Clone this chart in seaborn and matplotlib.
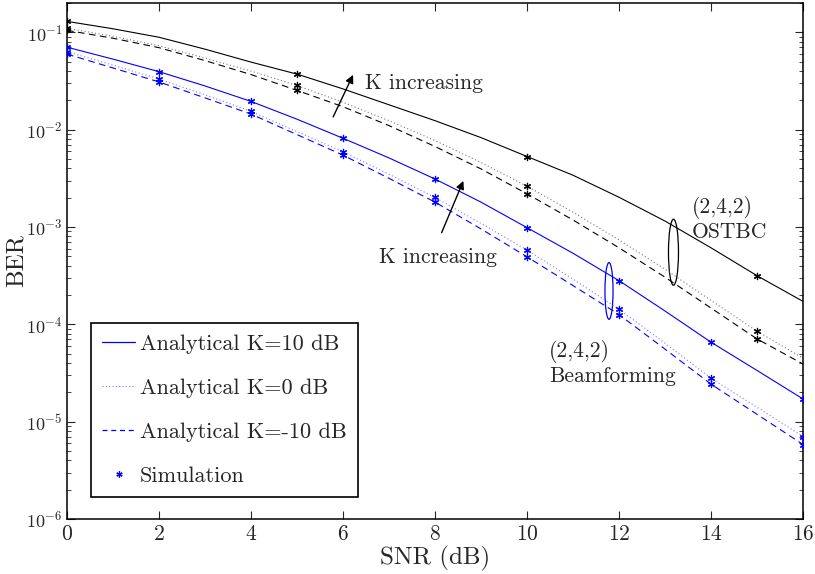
import numpy as np
import pandas as pd
import seaborn as sns
import matplotlib.pyplot as plt
from matplotlib.lines import Line2D
from matplotlib.patches import Ellipse

# SNR grid of the analytical curves (dB)
snr = list(range(0, 17))

# (2,4,2) OSTBC, analytical BER
ostbc_k10 = [0.1294, 0.1087, 0.0889, 0.0671, 0.0494, 0.0372, 0.0262, 0.0180, 0.01236,
             0.00828, 0.00530, 0.00340, 0.00202, 0.00115, 6.11e-4, 3.16e-4, 1.72e-4]
ostbc_k0 = [0.110, 0.0910, 0.0728, 0.0543, 0.0400, 0.0284, 0.0191, 0.01236, 0.00773,
            0.00460, 0.00262, 0.00142, 7.36e-4, 3.68e-4, 1.76e-4, 8.49e-5, 4.50e-5]
ostbc_km10 = [0.1047, 0.0869, 0.0695, 0.0512, 0.0368, 0.0253, 0.0172, 0.0110, 0.00671,
              0.00395, 0.00219, 0.00118, 6.11e-4, 3.05e-4, 1.47e-4, 7.08e-5, 3.91e-5]

# (2,4,2) Beamforming, analytical BER
bf_k10 = [0.0703, 0.0530, 0.0394, 0.0281, 0.0195, 0.0128, 0.00815, 0.00512, 0.00311,
          0.00180, 9.84e-4, 5.37e-4, 2.81e-4, 1.37e-4, 6.55e-5, 3.36e-5, 1.71e-5]
bf_k0 = [0.0632, 0.0460, 0.0331, 0.0228, 0.0154, 0.00955, 0.00592, 0.00348, 0.00201,
         0.00109, 5.78e-4, 2.91e-4, 1.43e-4, 6.40e-5, 2.79e-5, 1.41e-5, 7.03e-6]
bf_km10 = [0.0597, 0.0430, 0.0309, 0.0212, 0.01445, 0.00889, 0.00547, 0.00316, 0.00180,
           9.55e-4, 4.94e-4, 2.50e-4, 1.26e-4, 5.56e-5, 2.43e-5, 1.19e-5, 5.82e-6]

# Monte-Carlo simulation points
sim_snr_ostbc = [0, 5, 10, 15]
sim_ostbc_k10 = [0.130, 0.0375, 0.00526, 3.16e-4]
sim_ostbc_k0 = [0.110, 0.0285, 0.00263, 8.5e-5]
sim_ostbc_km10 = [0.105, 0.0253, 0.00217, 7.1e-5]

sim_snr_bf = [0, 2, 4, 6, 8, 10, 12, 14, 16]
sim_bf_k10 = [0.0703, 0.0394, 0.0195, 0.00815, 0.00311, 9.84e-4, 2.81e-4, 6.55e-5, 1.71e-5]
sim_bf_k0 = [0.0630, 0.0331, 0.0154, 0.00592, 0.00201, 5.78e-4, 1.43e-4, 2.79e-5, 7.0e-6]
sim_bf_km10 = [0.0600, 0.0309, 0.01445, 0.00547, 0.00180, 4.94e-4, 1.26e-4, 2.43e-5, 5.8e-6]

legend_labels = ["Analytical K=10 dB", "Analytical K=0 dB", "Analytical K=-10 dB", "Simulation"]

sns.set_style("ticks")
plt.rcParams.update({
    "font.family": "serif",
    "font.serif": ["cmr10", "DejaVu Serif"],
    "mathtext.fontset": "cm",
    "axes.formatter.use_mathtext": True,
    "axes.unicode_minus": False,
    "xtick.direction": "in",
    "ytick.direction": "in",
    "xtick.top": True,
    "ytick.right": True,
})

fig = plt.figure(figsize=(8.15, 5.74), dpi=100)
ax = fig.add_axes([0.0822, 0.0958, 0.9031, 0.8990])

BLUE = "#0000ff"
dashed = (0, (6, 4))
dotted = (0, (1, 2.2))

curves = [
    (ostbc_k10, "black", "-", 0.8),
    (ostbc_k0, "#777777", dotted, 0.8),
    (ostbc_km10, "black", dashed, 0.8),
    (bf_k10, BLUE, "-", 0.8),
    (bf_k0, "#7b7bff", dotted, 0.8),
    (bf_km10, BLUE, dashed, 0.8),
]
for vals, col, ls, lw in curves:
    df = pd.DataFrame({"snr": snr, "ber": vals})
    sns.lineplot(data=df, x="snr", y="ber", ax=ax, color=col, linestyle=ls,
                 linewidth=lw, legend=False, errorbar=None)

asterisk = (6, 2, 0)
sims = [
    (sim_snr_ostbc, sim_ostbc_k10, "black"),
    (sim_snr_ostbc, sim_ostbc_k0, "black"),
    (sim_snr_ostbc, sim_ostbc_km10, "black"),
    (sim_snr_bf, sim_bf_k10, BLUE),
    (sim_snr_bf, sim_bf_k0, BLUE),
    (sim_snr_bf, sim_bf_km10, BLUE),
]
for xs, ys, col in sims:
    sns.scatterplot(x=xs, y=ys, ax=ax, marker=asterisk, s=20, color=col,
                    edgecolor=col, linewidth=0.9, legend=False, zorder=4)

ax.set_yscale("log")
ax.set_xlim(0, 16)
ax.set_ylim(1e-6, 0.2)
ax.set_xticks(range(0, 17, 2))
ax.tick_params(axis="y", which="major", labelsize=13, length=6, width=0.8, pad=3)
ax.tick_params(axis="x", which="major", labelsize=15.5, length=6, width=0.8, pad=4)
ax.tick_params(axis="y", which="minor", length=3, width=0.6)
for sp in ax.spines.values():
    sp.set_linewidth(1.1)
    sp.set_color("black")

ax.set_xlabel("SNR (dB)", fontsize=18, labelpad=1)
ax.set_ylabel("BER", fontsize=18, labelpad=-1)

# "K increasing" arrows
arrow_kw = dict(arrowstyle="-|>", color="black", lw=1.0, mutation_scale=12)
ax.annotate("", xy=(6.245, 0.0388), xytext=(5.76, 0.01274), arrowprops=arrow_kw)
ax.text(6.48, 0.0302, "K increasing", fontsize=15.5, va="center", ha="left")
ax.annotate("", xy=(8.64, 3.16e-3), xytext=(8.12, 8.22e-4), arrowprops=arrow_kw)
ax.text(6.78, 4.94e-4, "K increasing", fontsize=15.5, va="center", ha="left")

# Ellipses grouping the curve families
ax.add_patch(Ellipse((0.824, 0.517), 0.0136, 0.128, transform=ax.transAxes,
                     fill=False, edgecolor="black", lw=0.9))
ax.add_patch(Ellipse((0.7364, 0.442), 0.0110, 0.110, transform=ax.transAxes,
                     fill=False, edgecolor=BLUE, lw=0.9))
ax.text(13.59, 1.2e-3, "(2,4,2)\nOSTBC", fontsize=15.5, va="center", ha="left",
        linespacing=1.2)
ax.text(10.48, 4.0e-5, "(2,4,2)\nBeamforming", fontsize=15.5, va="center", ha="left",
        linespacing=1.25)

handles = [
    Line2D([], [], color=BLUE, lw=0.9, ls="-"),
    Line2D([], [], color="#8080ff", lw=0.8, ls=(0, (1, 2))),
    Line2D([], [], color=BLUE, lw=0.9, ls=(0, (4, 3))),
    Line2D([], [], color=BLUE, lw=0, marker=asterisk, markersize=4.5, markeredgewidth=0.9),
]
leg = ax.legend(handles, legend_labels, loc="lower left",
                bbox_to_anchor=(0.0326, 0.0426), fontsize=16, frameon=True,
                fancybox=False, edgecolor="black", framealpha=1,
                labelspacing=1.1, handlelength=1.5, handletextpad=0.2,
                borderpad=0.5, borderaxespad=0)
leg.get_frame().set_linewidth(1.2)

fig.savefig("out.png", dpi=100)
